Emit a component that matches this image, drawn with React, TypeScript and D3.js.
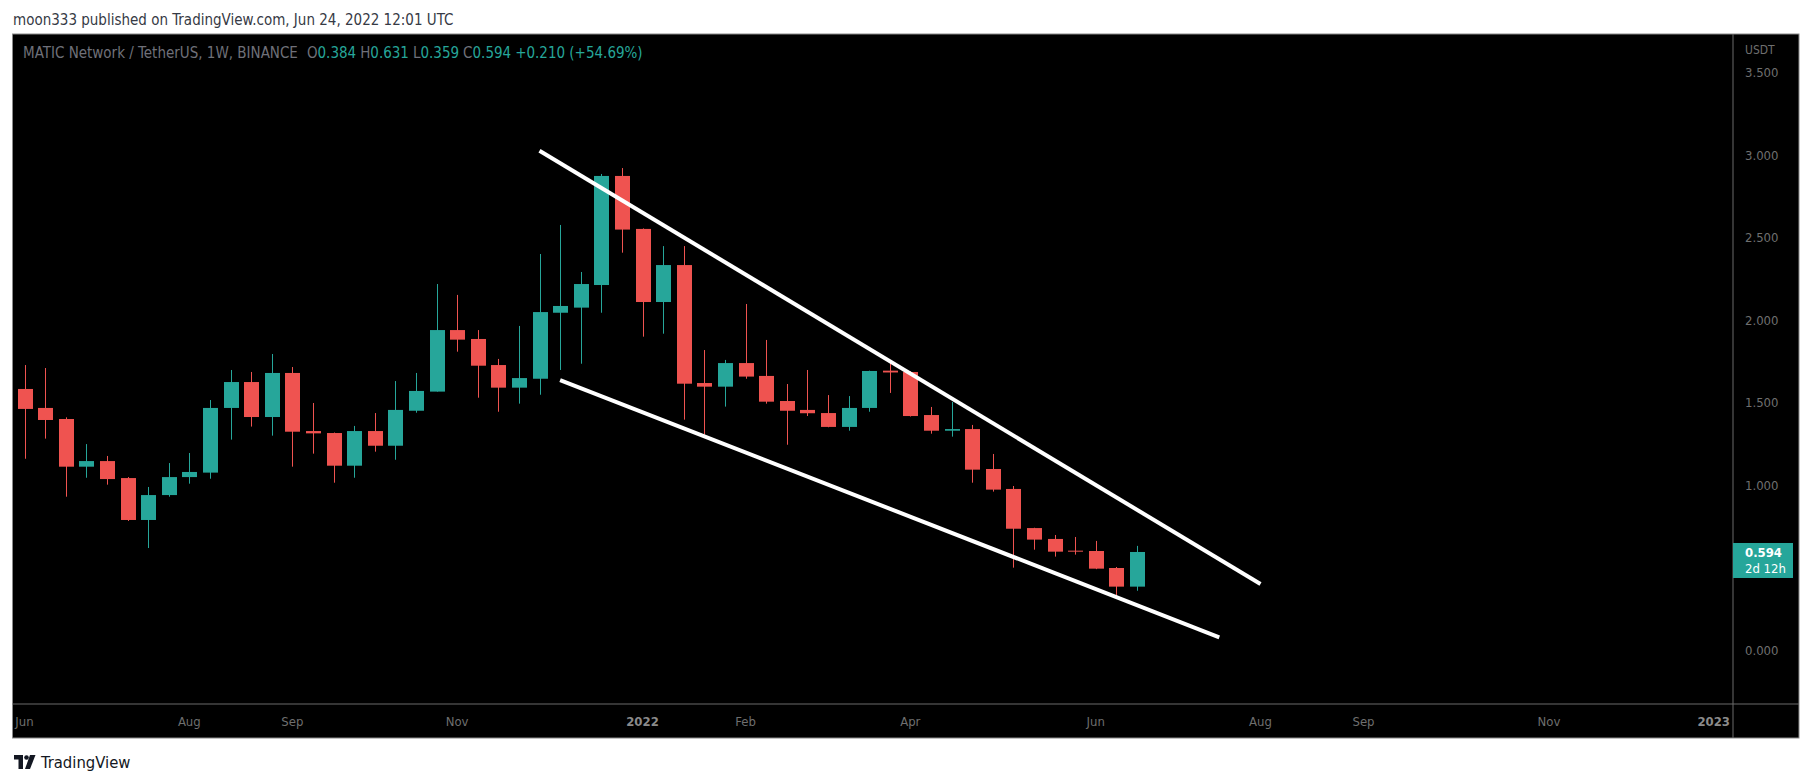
import React from "react";
import * as d3 from "d3";

// ---- data (weekly MATIC/USDT, Binance) ----
const weekStarts = [
  "2021-06-07","2021-06-14","2021-06-21","2021-06-28","2021-07-05","2021-07-12","2021-07-19","2021-07-26",
  "2021-08-02","2021-08-09","2021-08-16","2021-08-23","2021-08-30","2021-09-06","2021-09-13","2021-09-20",
  "2021-09-27","2021-10-04","2021-10-11","2021-10-18","2021-10-25","2021-11-01","2021-11-08","2021-11-15",
  "2021-11-22","2021-11-29","2021-12-06","2021-12-13","2021-12-20","2021-12-27","2022-01-03","2022-01-10",
  "2022-01-17","2022-01-24","2022-01-31","2022-02-07","2022-02-14","2022-02-21","2022-02-28","2022-03-07",
  "2022-03-14","2022-03-21","2022-03-28","2022-04-04","2022-04-11","2022-04-18","2022-04-25","2022-05-02",
  "2022-05-09","2022-05-16","2022-05-23","2022-05-30","2022-06-06","2022-06-13","2022-06-20",
];
const opens = [
  1.582,1.467,1.400,1.111,1.145,1.042,0.788,0.939,1.048,1.075,1.467,1.624,1.412,1.679,1.327,1.315,
  1.117,1.327,1.238,1.450,1.566,1.939,1.885,1.727,1.590,1.644,2.044,2.075,2.212,2.873,2.552,2.109,
  2.333,1.618,1.596,1.739,1.661,1.509,1.455,1.436,1.352,1.467,1.693,1.685,1.424,1.329,1.339,1.097,
  0.976,0.739,0.673,0.602,0.600,0.497,0.384,
];
const highs = [
  1.727,1.709,1.410,1.248,1.176,1.048,0.988,1.133,1.194,1.515,1.697,1.685,1.794,1.715,1.497,1.318,
  1.358,1.436,1.630,1.679,2.218,2.152,1.939,1.764,1.964,2.400,2.576,2.291,2.885,2.921,2.555,2.448,
  2.448,1.818,1.758,2.097,1.879,1.612,1.697,1.545,1.539,1.693,1.752,1.690,1.473,1.503,1.364,1.188,
  0.994,0.741,0.697,0.685,0.661,0.503,0.631,
];
const lows = [
  1.159,1.281,0.929,1.044,1.002,0.782,0.618,0.929,1.008,1.038,1.275,1.354,1.299,1.111,1.190,1.014,
  1.044,1.202,1.153,1.438,1.566,1.808,1.529,1.444,1.493,1.547,1.697,1.735,2.044,2.408,1.899,1.917,
  1.396,1.305,1.475,1.644,1.493,1.244,1.418,1.350,1.329,1.444,1.558,1.415,1.311,1.293,1.014,0.960,
  0.499,0.608,0.566,0.578,0.490,0.317,0.359,
];
const closes = [
  1.461,1.394,1.111,1.145,1.036,0.788,0.939,1.048,1.079,1.467,1.624,1.412,1.679,1.323,1.313,1.117,
  1.327,1.238,1.455,1.570,1.939,1.881,1.723,1.590,1.648,2.048,2.085,2.218,2.873,2.548,2.109,2.333,
  1.614,1.596,1.739,1.657,1.505,1.450,1.435,1.352,1.467,1.691,1.682,1.418,1.329,1.339,1.093,0.972,
  0.735,0.669,0.596,0.596,0.493,0.384,0.594,
];

// drawn trend lines: [date, price]
const upperLine: [string, number][] = [["2021-11-29", 3.026], ["2022-08-01", 0.40]];
const lowerLine: [string, number][] = [["2021-12-06", 1.636], ["2022-07-18", 0.077]];

// axis labels
const priceTicks = [0, 0.5, 1, 1.5, 2, 2.5, 3, 3.5];
const timeTickDates = ["2021-06-07","2021-08-02","2021-09-06","2021-11-01","2022-01-03","2022-02-07","2022-04-04","2022-06-06","2022-08-01","2022-09-05","2022-11-07","2023-01-02"];
const timeTickLabels = ["Jun","Aug","Sep","Nov","2022","Feb","Apr","Jun","Aug","Sep","Nov","2023"];
const yearLabels = ["2022", "2023"];

const lastPrice = 0.594;
const lastCountdown = "2d 12h";

// ---- layout ----
const W = 1813, H = 783;
const frameL = 12.5, frameR = 1799, frameT = 34, frameB = 738;
const axisX = 1733, axisY = 704;

const UP = "#26a69a", DOWN = "#ef5350";
const FONT = "'DejaVu Sans', Verdana, sans-serif";

const parse = (s: string) => { const [y, m, d] = s.split("-").map(Number); return new Date(Date.UTC(y, m - 1, d)); };

export default function App() {
  const x = d3.scaleUtc().domain([parse("2021-06-07"), parse("2023-01-02")]).range([24.5, 1713.7]);
  const y = d3.scaleLinear().domain([0, 3.5]).range([650, 72.5]);
  const bodyW = 15;

  const candles = weekStarts.map((d, i) => ({ d: parse(d), o: opens[i], h: highs[i], l: lows[i], c: closes[i] }));
  const line = d3.line<[string, number]>().x(p => x(parse(p[0]))).y(p => y(p[1]));

  const lastY = y(lastPrice);
  const shownTicks = priceTicks.filter(v => Math.abs(y(v) - (lastY + 8)) > 24);

  return (
    <svg width={W} height={H} style={{ position: "absolute", left: 0, top: 0, background: "#fff", fontStretch: "condensed" }} fontFamily={FONT}>
      <rect x={0} y={0} width={W} height={H} fill="#ffffff" />
      <text x={13} y={20} dominantBaseline="central" fontSize={15} fill="#363a45">
        moon333 published on TradingView.com, Jun 24, 2022 12:01 UTC
      </text>

      {/* chart frame */}
      <rect x={frameL} y={frameT} width={frameR - frameL} height={frameB - frameT} fill="#000" stroke="#8a8a8a" strokeWidth={1} />
      <line x1={axisX} x2={axisX} y1={frameT} y2={frameB} stroke="#6b6b6b" />
      <line x1={frameL} x2={frameR} y1={axisY} y2={axisY} stroke="#6b6b6b" />

      <defs>
        <clipPath id="plot">
          <rect x={frameL + 0.5} y={frameT + 0.5} width={axisX - frameL - 1} height={axisY - frameT - 1} />
        </clipPath>
      </defs>

      <g clipPath="url(#plot)">
        {candles.map((k, i) => {
          const cx = Math.round(x(k.d)) + 0.5;
          const col = k.c >= k.o ? UP : DOWN;
          const top = y(Math.max(k.o, k.c));
          const bot = y(Math.min(k.o, k.c));
          return (
            <g key={i}>
              <line x1={cx} x2={cx} y1={y(k.h)} y2={y(k.l)} stroke={col} strokeWidth={1} />
              <rect x={cx - bodyW / 2} y={top} width={bodyW} height={Math.max(1, bot - top)} fill={col} />
            </g>
          );
        })}
        <path d={line(upperLine) || ""} stroke="#fff" strokeWidth={4} fill="none" />
        <path d={line(lowerLine) || ""} stroke="#fff" strokeWidth={4} fill="none" />
      </g>

      {/* legend */}
      <text y={53} dominantBaseline="central" fontSize={15} fill="#6f7079">
        <tspan x={23}>MATIC Network / TetherUS, 1W, BINANCE</tspan>
        <tspan dx={9}>O</tspan><tspan fill={UP}>0.384</tspan>
        <tspan dx={4}>H</tspan><tspan fill={UP}>0.631</tspan>
        <tspan dx={4}>L</tspan><tspan fill={UP}>0.359</tspan>
        <tspan dx={4}>C</tspan><tspan fill={UP}>0.594</tspan>
        <tspan dx={4} fill={UP}>+0.210 (+54.69%)</tspan>
      </text>

      {/* price axis */}
      <text x={1745} y={50} dominantBaseline="central" fontSize={12} fill="#6f6f6f">USDT</text>
      {shownTicks.map(v => (
        <text key={v} x={1745} y={y(v)} dominantBaseline="central" fontSize={13} fill="#6f6f6f">{d3.format(".3f")(v)}</text>
      ))}
      <rect x={axisX} y={lastY - 9} width={60} height={35} fill={UP} />
      <text x={1745} y={lastY + 1} dominantBaseline="central" fontSize={13} fontWeight="bold" fill="#fff">{d3.format(".3f")(lastPrice)}</text>
      <text x={1745} y={lastY + 17} dominantBaseline="central" fontSize={13} fill="#fff">{lastCountdown}</text>

      {/* time axis */}
      {timeTickDates.map((d, i) => {
        const lab = timeTickLabels[i];
        const isYear = yearLabels.includes(lab);
        return (
          <text key={i} x={x(parse(d))} y={721} textAnchor="middle" dominantBaseline="central" fontSize={13}
            fontWeight={isYear ? "bold" : "normal"} fill={isYear ? "#8a8a8a" : "#6f6f6f"}>{lab}</text>
        );
      })}

      {/* TradingView mark */}
      <g fill="#131722">
        <path d="M14 755 h9 v14 h-4.5 v-9.5 h-4.5 z" />
        <circle cx={26.5} cy={757.5} r={2.3} />
        <path d="M30 755 h5.5 l-5.5 14 h-5 z" />
      </g>
      <text x={41} y={762} dominantBaseline="central" fontSize={16.5} fill="#131722">TradingView</text>
    </svg>
  );
}
